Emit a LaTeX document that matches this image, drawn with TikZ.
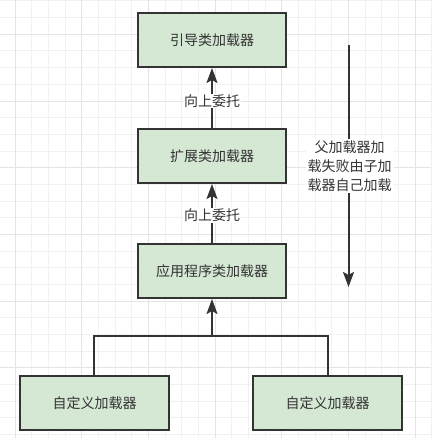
\documentclass[tikz,border=0pt]{standalone}
\usepackage{fontspec}
\newfontfamily\cjk{Noto Sans CJK SC}
\usetikzlibrary{arrows.meta}
\definecolor{boxfill}{HTML}{D5E8D4}
\definecolor{dark}{HTML}{333333}
\definecolor{gridminor}{HTML}{F1F1F1}
\definecolor{gridmajor}{HTML}{E4E4E4}
\tikzset{
  loader/.style={draw=dark, fill=boxfill, line width=2pt, minimum width=148pt, minimum height=54pt, inner sep=0pt, text=dark, font=\cjk\fontsize{14}{19}\selectfont},
  lbl/.style={fill=white, inner sep=1pt, text=dark, font=\cjk\fontsize{14}{19}\selectfont},
  conn/.style={draw=dark, line width=2pt},
  arr/.style={conn, -{Stealth[length=15pt, width=11pt, inset=3pt]}},
}
\begin{document}
\begin{tikzpicture}[x=1pt, y=-1pt]
\useasboundingbox (0,0) rectangle (431,438);
\fill[white] (0,0) rectangle (431,438);
% grid
\foreach \i in {0,...,26} {
  \draw[gridminor, line width=1pt] ({-1.667+16.667*\i},0) -- ({-1.667+16.667*\i},438);
}
\foreach \i in {0,...,26} {
  \draw[gridminor, line width=1pt] (0,{1+16.667*\i}) -- (431,{1+16.667*\i});
}
\foreach \i in {0,...,6} {
  \draw[gridmajor, line width=1pt] ({15+66.667*\i},0) -- ({15+66.667*\i},438);
  \draw[gridmajor, line width=1pt] (0,{-32.33+66.667*\i}) -- (431,{-32.33+66.667*\i});
}
% boxes
\node[loader] (boot) at (212,40) {引导类加载器};
\node[loader] (ext) at (212,156) {扩展类加载器};
\node[loader] (app) at (212,271) {应用程序类加载器};
\node[loader, minimum width=149pt] (cus1) at (94.5,403) {自定义加载器};
\node[loader, minimum width=149pt] (cus2) at (327.5,403) {自定义加载器};
% connectors
\draw[arr] (ext.north) -- node[lbl, pos=0.45] (l1) {向上委托} (boot.south);
\draw[arr] (app.north) -- node[lbl, pos=0.47] (l2) {向上委托} (ext.south);
\coordinate (j) at (212,336);
\draw[conn] (cus1.north -| 93.7,0) |- (j) -| (cus2.north -| 327.7,0);
\draw[arr] (j) -- (app.south);
% right side arrow
\coordinate (rs) at (348.5,45);
\coordinate (re) at (348.5,287);
\draw[arr] (rs) -- (re);
\node[lbl, align=center, inner sep=2pt] (note) at (349.5,166) {父加载器加\\载失败由子加\\载器自己加载};
\end{tikzpicture}
\end{document}
